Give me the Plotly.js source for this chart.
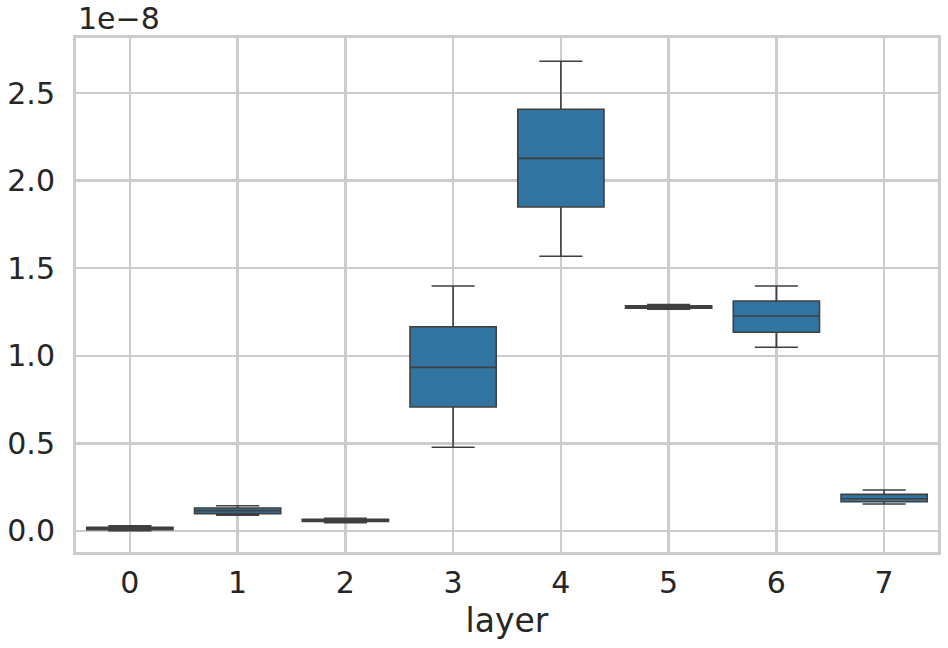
<!DOCTYPE html>
<html>
<head>
<meta charset="utf-8">
<script src="https://cdn.plot.ly/plotly-3.0.1.min.js"></script>
<style>html,body{margin:0;padding:0;background:#fff;}#chart{width:948px;height:648px;}</style>
</head>
<body>
<div id="chart"></div>
<script>
// layer categories
const layers = [0, 1, 2, 3, 4, 5, 6, 7];
const layerLabels = ['0', '1', '2', '3', '4', '5', '6', '7'];
// box statistics (values)
const lowerWhisker = [0.002e-8, 0.090e-8, 0.047e-8, 0.478e-8, 1.568e-8, 1.266e-8, 1.049e-8, 0.154e-8];
const q1Values     = [0.007e-8, 0.099e-8, 0.055e-8, 0.708e-8, 1.849e-8, 1.272e-8, 1.134e-8, 0.167e-8];
const medianValues = [0.014e-8, 0.116e-8, 0.060e-8, 0.934e-8, 2.127e-8, 1.279e-8, 1.227e-8, 0.184e-8];
const q3Values     = [0.021e-8, 0.131e-8, 0.066e-8, 1.166e-8, 2.407e-8, 1.285e-8, 1.313e-8, 0.209e-8];
const upperWhisker = [0.030e-8, 0.144e-8, 0.072e-8, 1.398e-8, 2.681e-8, 1.292e-8, 1.398e-8, 0.234e-8];
// y tick labels (scaled by 1e-8)
const yTickVals = [0, 0.5e-8, 1.0e-8, 1.5e-8, 2.0e-8, 2.5e-8];
const yTickText = ['0.0', '0.5', '1.0', '1.5', '2.0', '2.5'];
const offsetText = '1e\u22128';

const textColor = '#262626';
const gridColor = '#cccccc';

const trace = {
  type: 'box',
  x: layers,
  q1: q1Values,
  median: medianValues,
  q3: q3Values,
  lowerfence: lowerWhisker,
  upperfence: upperWhisker,
  boxpoints: false,
  width: 0.8,
  whiskerwidth: 0.5,
  fillcolor: '#3274a1',
  line: {color: '#3f3f3f', width: 1.6},
  hoverinfo: 'skip',
  showlegend: false
};

const layout = {
  width: 948,
  height: 648,
  margin: {l: 76, r: 10, t: 38, b: 96},
  paper_bgcolor: '#ffffff',
  plot_bgcolor: '#ffffff',
  font: {family: 'DejaVu Sans, sans-serif', color: textColor, size: 30},
  xaxis: {
    range: [-0.5, 7.5],
    tickvals: layers,
    ticktext: layerLabels,
    showgrid: true,
    gridcolor: gridColor,
    gridwidth: 2.5,
    zeroline: false,
    showline: true,
    mirror: true,
    linecolor: gridColor,
    linewidth: 3,
    ticks: 'outside',
    ticklen: 2,
    tickcolor: 'rgba(0,0,0,0)',
    tickfont: {size: 30, color: textColor},
    title: {text: 'layer', font: {size: 33, color: textColor}, standoff: 10}
  },
  yaxis: {
    range: [-0.12e-8, 2.814e-8],
    tickvals: yTickVals,
    ticktext: yTickText,
    showgrid: true,
    gridcolor: gridColor,
    gridwidth: 2.5,
    zeroline: false,
    showline: true,
    mirror: true,
    linecolor: gridColor,
    linewidth: 3,
    ticks: 'outside',
    ticklen: 12,
    tickcolor: 'rgba(0,0,0,0)',
    tickfont: {size: 30, color: textColor}
  },
  annotations: [{
    text: offsetText,
    xref: 'paper', yref: 'paper',
    x: 0, y: 1,
    xanchor: 'left', yanchor: 'bottom',
    yshift: 0,
    showarrow: false,
    font: {size: 30, color: textColor}
  }]
};

Plotly.newPlot('chart', [trace], layout, {displayModeBar: false, staticPlot: true});
</script>
</body>
</html>
